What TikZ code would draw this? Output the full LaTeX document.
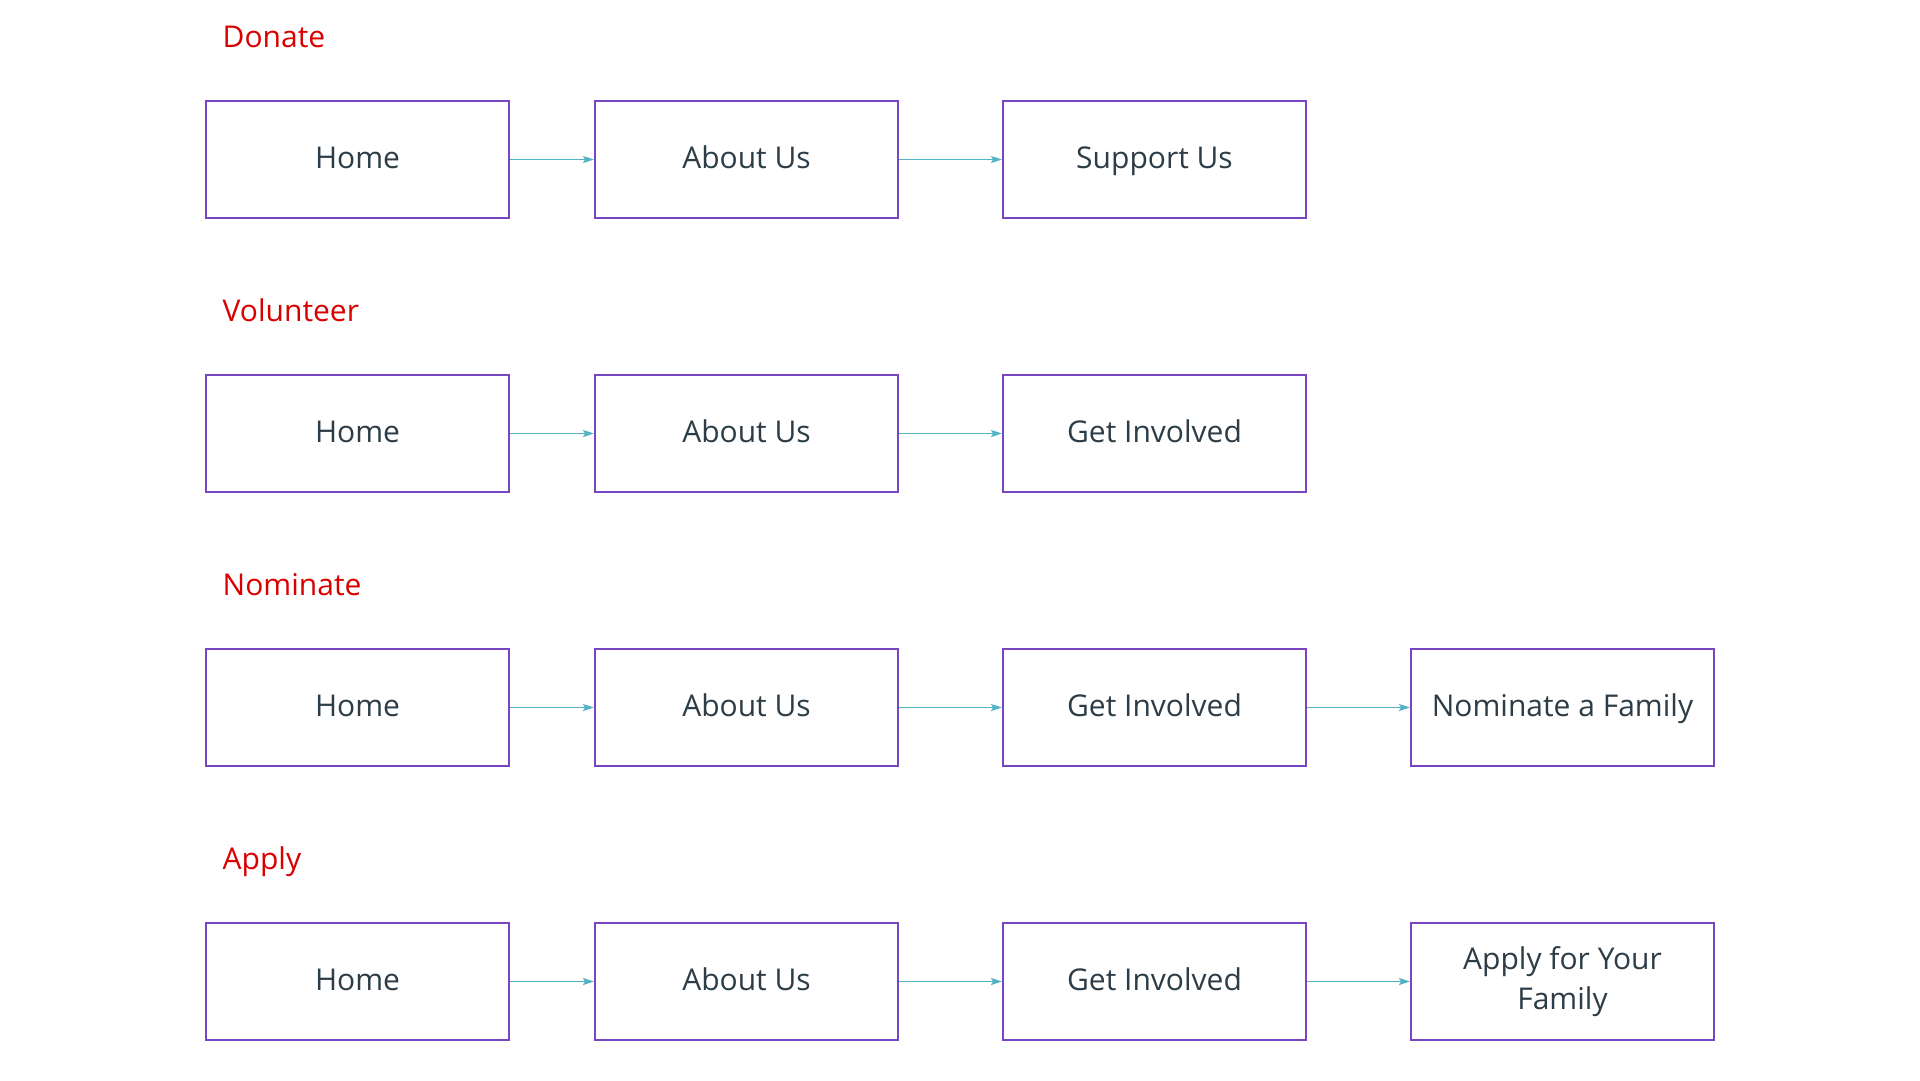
\documentclass[tikz,border=0pt]{standalone}
\usepackage{fontspec}
\setmainfont{Open Sans}
\usetikzlibrary{arrows.meta}
\definecolor{boxc}{HTML}{7A45C2}
\definecolor{titlec}{HTML}{D90000}
\definecolor{textc}{HTML}{2D3D47}
\definecolor{arrc}{HTML}{52B3C4}
\begin{document}
\begin{tikzpicture}[x=1pt,y=-1pt,
  page/.style={draw=boxc, line width=2pt, fill=white, minimum width=303pt, minimum height=117pt,
    inner sep=0pt, text=textc, font=\fontsize{30pt}{40pt}\selectfont, align=center,
    text height=21pt, text depth=4pt},
  twoline/.style={text height=, text depth=},
  heading/.style={anchor=base west, inner sep=0pt, text=titlec, font=\fontsize{30pt}{36pt}\selectfont},
  flow/.style={draw=arrc, line width=1.5pt, -{Stealth[length=11pt,width=7pt,inset=2pt]}}]
\useasboundingbox (0,0) rectangle (1920,1080);
% Donate
\node[heading] (t1) at (222.5,47) {Donate};
\node[page] (d1) at (357.5,159.5) {Home};
\node[page] (d2) at (746.5,159.5) {About Us};
\node[page] (d3) at (1154.5,159.5) {Support Us};
\draw[flow] (d1.east) -- (d2.west);
\draw[flow] (d2.east) -- (d3.west);
% Volunteer
\node[heading] (t2) at (222.5,321) {Volunteer};
\node[page] (v1) at (357.5,433.5) {Home};
\node[page] (v2) at (746.5,433.5) {About Us};
\node[page] (v3) at (1154.5,433.5) {Get Involved};
\draw[flow] (v1.east) -- (v2.west);
\draw[flow] (v2.east) -- (v3.west);
% Nominate
\node[heading] (t3) at (222.5,595) {Nominate};
\node[page] (n1) at (357.5,707.5) {Home};
\node[page] (n2) at (746.5,707.5) {About Us};
\node[page] (n3) at (1154.5,707.5) {Get Involved};
\node[page] (n4) at (1562.5,707.5) {Nominate a Family};
\draw[flow] (n1.east) -- (n2.west);
\draw[flow] (n2.east) -- (n3.west);
\draw[flow] (n3.east) -- (n4.west);
% Apply
\node[heading] (t4) at (222.5,869) {Apply};
\node[page] (a1) at (357.5,981.5) {Home};
\node[page] (a2) at (746.5,981.5) {About Us};
\node[page] (a3) at (1154.5,981.5) {Get Involved};
\node[page,twoline] (a4) at (1562.5,981.5) {Apply for Your\\Family};
\draw[flow] (a1.east) -- (a2.west);
\draw[flow] (a2.east) -- (a3.west);
\draw[flow] (a3.east) -- (a4.west);
\end{tikzpicture}
\end{document}
